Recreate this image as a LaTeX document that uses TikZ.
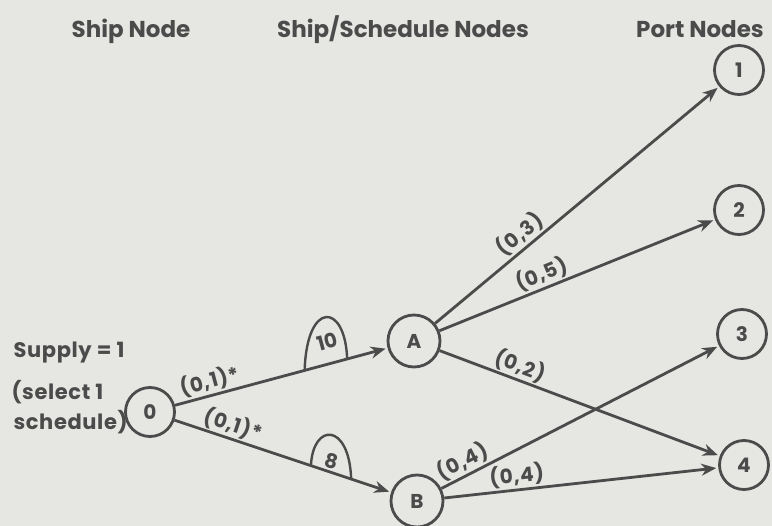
\documentclass[tikz,border=0pt]{standalone}
\usepackage{fontspec}
\setmainfont{Poppins}
\usetikzlibrary{arrows.meta,calc}
\definecolor{ink}{HTML}{4B4B4B}
\definecolor{paper}{HTML}{E6E6E3}
\begin{document}
\begin{tikzpicture}[x=1pt,y=-1pt,
  every node/.style={text=ink},
  port/.style={circle,draw=ink,line width=2.8pt,minimum size=49pt,inner sep=0pt,font=\bfseries\fontsize{20}{20}\selectfont},
  edge/.style={draw=ink,line width=2.8pt,-{Stealth[length=15pt,width=12pt]},shorten >=2pt},
  lab/.style={font=\bfseries\fontsize{20}{20}\selectfont\addfontfeature{LetterSpace=4},sloped,above,inner sep=1.5pt},
  cost/.style={font=\bfseries\fontsize{20}{20}\selectfont,inner sep=0pt},
  arch/.style={draw=ink,line width=2.4pt},
  head/.style={font=\bfseries\fontsize{23}{23}\selectfont,anchor=base},
  side/.style={font=\bfseries\fontsize{21}{21}\selectfont\addfontfeature{LetterSpace=3},anchor=base west},
]
\fill[paper] (0,0) rectangle (772,526);
\useasboundingbox (0,0) rectangle (772,526);

% headings
\node[head] (h1) at (131,38) {Ship Node};
\node[head] (h2) at (403,38) {Ship/Schedule Nodes};
\node[head] (h3) at (700,38) {Port Nodes};

% supply text
\node[side] (s1) at (10,358) {Supply = 1};
\node[side] (s2) at (8,400) {(select 1};
\node[side] (s3) at (10,430) {schedule)};

% nodes
\node[port] (n0) at (150,412) {0};
\node[port,minimum size=52pt] (A) at (414,341) {A};
\node[port,minimum size=52pt] (B) at (417,501) {B};
\node[port] (p1) at (739,70) {1};
\node[port] (p2) at (739,210) {2};
\node[port] (p3) at (742,334) {3};
\node[port] (p4) at (744,465) {4};

% edges
\draw[edge] (n0) -- (A) node[lab,pos=0.18] (l0A) {(0,1)*}
  coordinate[pos=0.61] (a1) coordinate[pos=0.81] (a2);
\draw[edge] (n0) -- (B) node[lab,pos=0.25] (l0B) {(0,1)*}
  coordinate[pos=0.63] (b1) coordinate[pos=0.816] (b2);
\draw[edge] (A) -- (p1) node[lab,pos=0.33] (lA1) {(0,3)};
\draw[edge] (A) -- (p2) node[lab,pos=0.39] (lA2) {(0,5)};
\draw[edge] (A) -- (p4) node[lab,pos=0.27] (lA4) {(0,2)};
\draw[edge] (B) -- (p3) node[lab,pos=0.10] (lB3) {(0,4)};
\draw[edge] (B) -- (p4) node[lab,pos=0.27] (lB4) {(0,4)};

% cost arches
\draw[arch] (a1) .. controls +(2,-70) and +(-2,-57) .. (a2);
\node[cost,rotate=15] (c10) at (327,342) {10};
\draw[arch] (b1) .. controls +(2,-43) and +(-2,-57) .. (b2);
\node[cost,rotate=-15] (c8) at (332,461) {8};
\end{tikzpicture}
\end{document}
